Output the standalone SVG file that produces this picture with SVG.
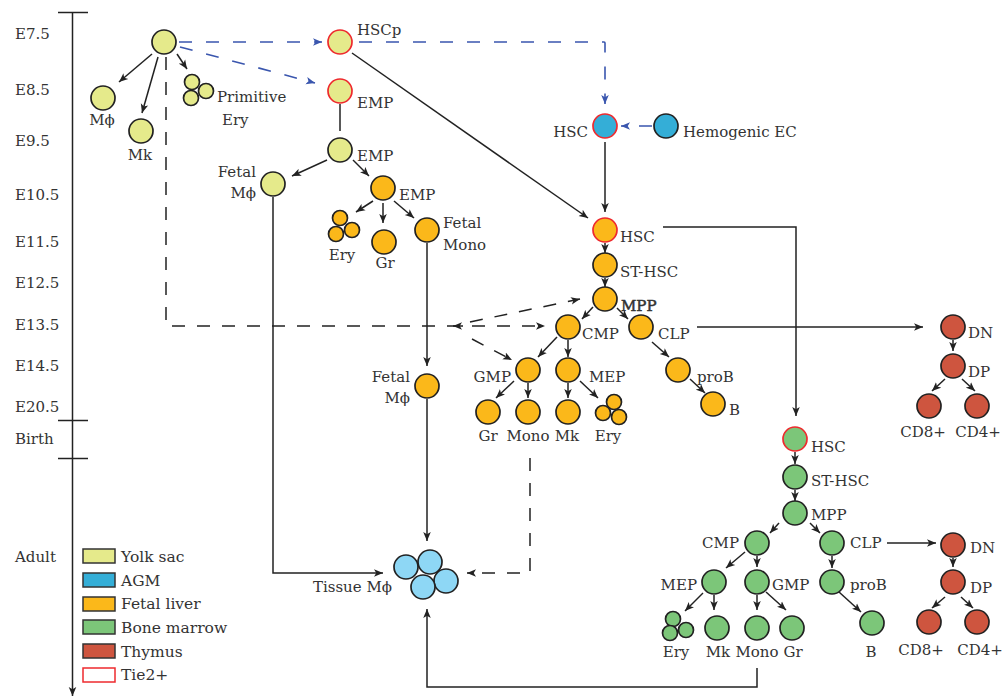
<svg xmlns="http://www.w3.org/2000/svg" width="1005" height="697" viewBox="0 0 1005 697">
<defs>
<marker id="ah" viewBox="0 0 10 10" refX="10" refY="5" markerWidth="9" markerHeight="9" orient="auto" markerUnits="userSpaceOnUse"><path d="M0,0.8 L10,5 L0,9.2 L2.5,5 z" fill="#222"/></marker>
<marker id="bh" viewBox="0 0 10 10" refX="10" refY="5" markerWidth="9" markerHeight="9" orient="auto" markerUnits="userSpaceOnUse"><path d="M0,0.8 L10,5 L0,9.2 L2.5,5 z" fill="#3A56AE"/></marker>
<style>
text{font-family:"DejaVu Serif","Liberation Serif",serif;font-size:15px;fill:#333}
.ax{font-size:15px}
.lg{font-size:15.5px}
.c{stroke:#222;stroke-width:1.7}
.ys{fill:#E5EA8B}
.fl{fill:#FBB81A}
.bm{fill:#7CC679}
.th{fill:#CE553F}
.agm{fill:#34AED7}
.tm{fill:#8ED7F5}
.tie{stroke:#EE2A2E}
.ln{fill:none;stroke:#222;stroke-width:1.5}
.a{marker-end:url(#ah)}
.dk{stroke-dasharray:13 12}
.bl{fill:none;stroke:#3A56AE;stroke-width:1.6;stroke-dasharray:13 14;marker-end:url(#bh)}
.m{text-anchor:middle}
.e{text-anchor:end}
</style>
</defs>

<g id="timeline">
<line class="ln" x1="72.5" y1="12" x2="72.5" y2="696" style="marker-end:url(#ah)"/>
<line class="ln" x1="58" y1="12.5" x2="88" y2="12.5"/>
<line class="ln" x1="58" y1="420.5" x2="88" y2="420.5"/>
<line class="ln" x1="58" y1="458.5" x2="88" y2="458.5"/>
<text class="ax" x="15" y="39">E7.5</text>
<text class="ax" x="15" y="95">E8.5</text>
<text class="ax" x="15" y="146">E9.5</text>
<text class="ax" x="15" y="200">E10.5</text>
<text class="ax" x="15" y="247">E11.5</text>
<text class="ax" x="15" y="288">E12.5</text>
<text class="ax" x="15" y="330">E13.5</text>
<text class="ax" x="15" y="371">E14.5</text>
<text class="ax" x="15" y="412">E20.5</text>
<text class="ax" x="15" y="444">Birth</text>
<text class="ax" x="15" y="562">Adult</text>
</g>

<g id="legend">
<rect x="83" y="549" width="32" height="14" class="ys" stroke="#333" stroke-width="1.5"/>
<rect x="83" y="573" width="32" height="14" class="agm" stroke="#333" stroke-width="1.5"/>
<rect x="83" y="597" width="32" height="14" class="fl" stroke="#333" stroke-width="1.5"/>
<rect x="83" y="620" width="32" height="14" class="bm" stroke="#333" stroke-width="1.5"/>
<rect x="83" y="644" width="32" height="14" class="th" stroke="#333" stroke-width="1.5"/>
<rect x="83" y="668" width="32" height="14" fill="#fff" stroke="#EE2A2E" stroke-width="1.5"/>
<text class="lg" x="121" y="562">Yolk sac</text>
<text class="lg" x="121" y="586">AGM</text>
<text class="lg" x="121" y="609">Fetal liver</text>
<text class="lg" x="121" y="633">Bone marrow</text>
<text class="lg" x="121" y="657">Thymus</text>
<text class="lg" x="121" y="680">Tie2+</text>
</g>

<g id="connectors">
<line class="ln a" x1="152" y1="54" x2="119" y2="82"/>
<line class="ln a" x1="158" y1="57" x2="142" y2="113"/>
<line class="ln a" x1="177" y1="54" x2="187" y2="69"/>
<path class="ln dk a" d="M166,57 V326 H545"/>
<line class="ln a" x1="463" y1="326" x2="453" y2="326"/>
<line class="ln dk a" x1="470" y1="322" x2="580" y2="299"/>
<line class="ln dk a" x1="472" y1="339" x2="512" y2="360"/>
<path class="bl" d="M179,42 H322"/>
<path class="bl" d="M180,47 L315,83"/>
<path class="bl" d="M359,42 H604 Q605,42 605,43 V104"/>
<path class="bl" d="M652,126 H621"/>
<line class="ln" x1="340" y1="104" x2="340" y2="131"/>
<line class="ln a" x1="327" y1="160" x2="292" y2="176"/>
<line class="ln a" x1="353" y1="160" x2="369" y2="176"/>
<line class="ln a" x1="373" y1="201" x2="356" y2="212"/>
<line class="ln a" x1="383" y1="203" x2="383" y2="223"/>
<line class="ln a" x1="394" y1="201" x2="414" y2="218"/>
<path class="ln a" d="M273,197 V573 H383"/>
<line class="ln a" x1="427" y1="243" x2="427" y2="366"/>
<line class="ln a" x1="427" y1="399" x2="427" y2="541"/>
<line class="ln a" x1="352" y1="53" x2="588" y2="218"/>
<line class="ln a" x1="605" y1="142" x2="605" y2="212"/>
<path class="ln a" d="M663,227 H796 V416"/>
<line class="ln a" x1="605" y1="243" x2="605" y2="253"/>
<line class="ln a" x1="605" y1="278" x2="605" y2="287"/>
<line class="ln a" x1="593" y1="307" x2="582" y2="319"/>
<line class="ln a" x1="617" y1="308" x2="628" y2="319"/>
<line class="ln a" x1="697" y1="327" x2="923" y2="327"/>
<line class="ln a" x1="557" y1="337" x2="538" y2="357"/>
<line class="ln a" x1="568" y1="340" x2="568" y2="357"/>
<line class="ln a" x1="514" y1="381" x2="496" y2="398"/>
<line class="ln a" x1="528" y1="383" x2="528" y2="398"/>
<line class="ln a" x1="568" y1="383" x2="568" y2="398"/>
<line class="ln a" x1="580" y1="381" x2="598" y2="398"/>
<line class="ln a" x1="652" y1="342" x2="669" y2="357"/>
<line class="ln a" x1="690" y1="379" x2="705" y2="393"/>
<path class="ln dk a" d="M530,458 V573 H467"/>
<line class="ln a" x1="953" y1="340" x2="953" y2="351"/>
<line class="ln a" x1="945" y1="379" x2="932" y2="391"/>
<line class="ln a" x1="962" y1="379" x2="975" y2="391"/>
<line class="ln a" x1="795" y1="452" x2="795" y2="464"/>
<line class="ln a" x1="795" y1="490" x2="795" y2="501"/>
<line class="ln a" x1="779" y1="523" x2="770" y2="533"/>
<line class="ln a" x1="810" y1="523" x2="820" y2="533"/>
<line class="ln a" x1="887" y1="543" x2="936" y2="543"/>
<line class="ln a" x1="745" y1="552" x2="726" y2="568"/>
<line class="ln a" x1="757" y1="556" x2="757" y2="567"/>
<line class="ln a" x1="832" y1="556" x2="832" y2="568"/>
<line class="ln a" x1="839" y1="592" x2="861" y2="612"/>
<line class="ln a" x1="703" y1="593" x2="685" y2="611"/>
<line class="ln a" x1="714" y1="595" x2="714" y2="610"/>
<line class="ln a" x1="757" y1="595" x2="757" y2="610"/>
<line class="ln a" x1="766" y1="592" x2="786" y2="610"/>
<line class="ln a" x1="953" y1="558" x2="953" y2="567"/>
<line class="ln a" x1="945" y1="597" x2="932" y2="608"/>
<line class="ln a" x1="961" y1="597" x2="973" y2="608"/>
<path class="ln a" d="M757,668 V687 H427 V609"/>
</g>

<g id="ys-root"><circle class="c ys" cx="164" cy="42" r="12"/></g>
<g id="ys-mphi"><circle class="c ys" cx="103" cy="98" r="12"/><text class="m" x="102" y="125">Mϕ</text></g>
<g id="ys-mk"><circle class="c ys" cx="141" cy="131" r="12"/><text class="m" x="140" y="160">Mk</text></g>
<g id="ys-ery"><circle class="c ys" cx="192" cy="82" r="7.5"/><circle class="c ys" cx="206" cy="91" r="7.5"/><circle class="c ys" cx="191" cy="98" r="7.5"/><text x="217" y="102">Primitive</text><text x="222" y="125">Ery</text></g>
<g id="ys-hscp"><circle class="c ys tie" cx="340" cy="42" r="12"/><text x="357" y="35">HSCp</text></g>
<g id="ys-emp1"><circle class="c ys tie" cx="340" cy="91" r="12"/><text x="357" y="108">EMP</text></g>
<g id="ys-emp2"><circle class="c ys" cx="340" cy="150" r="12"/><text x="357" y="161">EMP</text></g>
<g id="ys-fetal-mphi"><circle class="c ys" cx="273" cy="184" r="12"/><text class="e" x="256" y="177">Fetal</text><text class="e" x="256" y="198">Mϕ</text></g>

<g id="agm-hsc"><circle class="c agm tie" cx="605" cy="126" r="12"/><text class="e" x="588" y="137">HSC</text></g>
<g id="agm-hec"><circle class="c agm" cx="666" cy="126" r="12"/><text x="683" y="137">Hemogenic EC</text></g>

<g id="fl-emp"><circle class="c fl" cx="383" cy="188" r="12"/><text x="399" y="200">EMP</text></g>
<g id="fl-ery1"><circle class="c fl" cx="340" cy="218" r="7.5"/><circle class="c fl" cx="336" cy="234" r="7.5"/><circle class="c fl" cx="352" cy="230" r="7.5"/><text class="m" x="342" y="260">Ery</text></g>
<g id="fl-gr1"><circle class="c fl" cx="384" cy="242" r="12"/><text class="m" x="385" y="268">Gr</text></g>
<g id="fl-fetal-mono"><circle class="c fl" cx="427" cy="230" r="12"/><text x="443" y="228">Fetal</text><text x="443" y="250">Mono</text></g>
<g id="fl-fetal-mphi"><circle class="c fl" cx="427" cy="386" r="12"/><text class="e" x="410" y="382">Fetal</text><text class="e" x="410" y="403">Mϕ</text></g>

<g id="fl-hsc"><circle class="c fl tie" cx="605" cy="230" r="12"/><text x="620" y="242">HSC</text></g>
<g id="fl-st-hsc"><circle class="c fl" cx="605" cy="265" r="12"/><text x="620" y="277">ST-HSC</text></g>
<g id="fl-mpp"><circle class="c fl" cx="605" cy="299" r="12"/><text x="621" y="311" style="stroke:#333;stroke-width:0.5">MPP</text></g>
<g id="fl-cmp"><circle class="c fl" cx="568" cy="327" r="12"/><text x="582" y="339">CMP</text></g>
<g id="fl-clp"><circle class="c fl" cx="641" cy="327" r="12"/><text x="658" y="339">CLP</text></g>
<g id="fl-gmp"><circle class="c fl" cx="528" cy="370" r="12"/><text class="e" x="511" y="382">GMP</text></g>
<g id="fl-mep"><circle class="c fl" cx="568" cy="370" r="12"/><text x="589" y="382">MEP</text></g>
<g id="fl-gr"><circle class="c fl" cx="488" cy="412" r="12"/><text class="m" x="488" y="441">Gr</text></g>
<g id="fl-mono"><circle class="c fl" cx="528" cy="412" r="12"/><text class="m" x="528" y="441">Mono</text></g>
<g id="fl-mk"><circle class="c fl" cx="568" cy="412" r="12"/><text class="m" x="567" y="441">Mk</text></g>
<g id="fl-ery"><circle class="c fl" cx="614" cy="402" r="7.5"/><circle class="c fl" cx="603" cy="413" r="7.5"/><circle class="c fl" cx="619" cy="417" r="7.5"/><text class="m" x="608" y="441">Ery</text></g>
<g id="fl-prob"><circle class="c fl" cx="678" cy="370" r="12"/><text x="697" y="382">proB</text></g>
<g id="fl-b"><circle class="c fl" cx="713" cy="404" r="12"/><text x="729" y="415">B</text></g>

<g id="th1-dn"><circle class="c th" cx="953" cy="327" r="12"/><text x="968" y="338">DN</text></g>
<g id="th1-dp"><circle class="c th" cx="953" cy="366" r="12"/><text x="968" y="377">DP</text></g>
<g id="th1-cd8"><circle class="c th" cx="929" cy="406" r="12"/><text class="m" x="923" y="437">CD8+</text></g>
<g id="th1-cd4"><circle class="c th" cx="977" cy="406" r="12"/><text class="m" x="978" y="437">CD4+</text></g>

<g id="tissue-mphi"><circle class="c tm" cx="406" cy="567" r="12"/><circle class="c tm" cx="430" cy="562" r="12"/><circle class="c tm" cx="446" cy="581" r="12"/><circle class="c tm" cx="423" cy="587" r="12"/><text class="e" x="392" y="592">Tissue Mϕ</text></g>

<g id="bm-hsc"><circle class="c bm tie" cx="795" cy="439" r="12"/><text x="811" y="452">HSC</text></g>
<g id="bm-st-hsc"><circle class="c bm" cx="795" cy="477" r="12"/><text x="811" y="486">ST-HSC</text></g>
<g id="bm-mpp"><circle class="c bm" cx="795" cy="513" r="12"/><text x="811" y="520">MPP</text></g>
<g id="bm-cmp"><circle class="c bm" cx="757" cy="543" r="12"/><text class="e" x="739" y="548">CMP</text></g>
<g id="bm-clp"><circle class="c bm" cx="832" cy="543" r="12"/><text x="850" y="548">CLP</text></g>
<g id="bm-mep"><circle class="c bm" cx="714" cy="582" r="12"/><text class="e" x="697" y="590">MEP</text></g>
<g id="bm-gmp"><circle class="c bm" cx="757" cy="582" r="12"/><text x="772" y="590">GMP</text></g>
<g id="bm-prob"><circle class="c bm" cx="832" cy="582" r="12"/><text x="850" y="590">proB</text></g>
<g id="bm-ery"><circle class="c bm" cx="673" cy="619" r="7.5"/><circle class="c bm" cx="670" cy="633" r="7.5"/><circle class="c bm" cx="686" cy="630" r="7.5"/><text class="m" x="676" y="657">Ery</text></g>
<g id="bm-mk"><circle class="c bm" cx="717" cy="628" r="12"/><text class="m" x="718" y="657">Mk</text></g>
<g id="bm-mono"><circle class="c bm" cx="757" cy="628" r="12"/><text class="m" x="757" y="657">Mono</text></g>
<g id="bm-gr"><circle class="c bm" cx="792" cy="628" r="12"/><text class="m" x="793" y="657">Gr</text></g>
<g id="bm-b"><circle class="c bm" cx="872" cy="623" r="12"/><text class="m" x="871" y="657">B</text></g>

<g id="th2-dn"><circle class="c th" cx="953" cy="545" r="12"/><text x="970" y="553">DN</text></g>
<g id="th2-dp"><circle class="c th" cx="953" cy="582" r="12"/><text x="970" y="593">DP</text></g>
<g id="th2-cd8"><circle class="c th" cx="929" cy="622" r="12"/><text class="m" x="921" y="655">CD8+</text></g>
<g id="th2-cd4"><circle class="c th" cx="977" cy="622" r="12"/><text class="m" x="980" y="655">CD4+</text></g>
</svg>
